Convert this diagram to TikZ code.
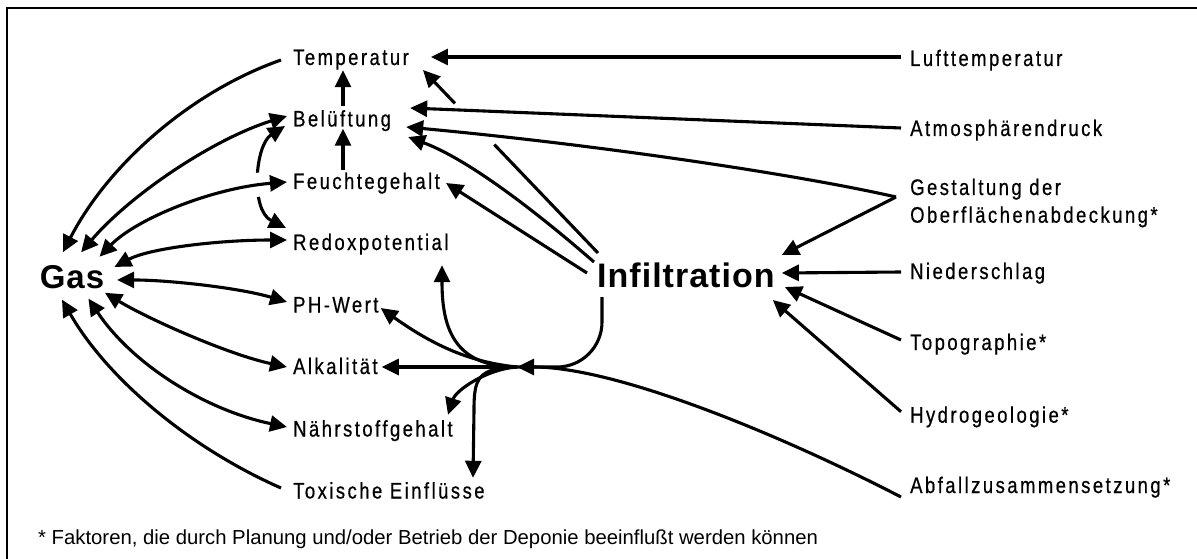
\documentclass[tikz,border=0pt]{standalone}
\usepackage{fontspec}
\setmainfont{Liberation Sans}
\newfontfamily\labfam[FakeStretch=0.82,LetterSpace=11,FakeBold=0.6]{Liberation Sans}
\newfontfamily\boldfam[LetterSpace=3]{Liberation Sans}
\usetikzlibrary{arrows.meta,shapes.geometric}
\newcommand\labfont{\labfam\fontsize{22.5}{27.7}\selectfont}
\begin{document}
\begin{tikzpicture}[x=1pt,y=-1pt,
  >={Triangle[length=17pt,width=16pt]},
  conn/.style={line width=3.1pt},
  labbase/.style={font=\labfont, inner sep=0pt, anchor=base west},
  lab/.style={labbase, text height=16pt, text depth=0pt},
  halo/.style={preaction={draw=white,line width=24pt,-,shorten <=100pt,shorten >=15pt}}]
\useasboundingbox (0,0) rectangle (1197,559);
\draw[line width=1.4pt] (1197,8) -- (7,8) -- (7,559);

% left column
\node[lab] (temp) at (293,65) {Temperatur};
\node[lab] (bel) at (293,126.5) {Belüftung};
\node[lab] (feu) at (293,189) {Feuchtegehalt};
\node[lab] (red) at (293,250) {Redoxpotential};
\node[lab] (ph) at (293,312.5) {PH-Wert};
\node[lab] (alk) at (293,374) {Alkalität};
\node[lab] (nah) at (293,436.5) {Nährstoffgehalt};
\node[lab] (tox) at (293,498.5) {Toxische Einflüsse};
% big nodes
\node[ellipse, minimum width=80pt, minimum height=48pt, inner sep=0pt,
  text height=24pt, text depth=0pt, font=\boldfam\bfseries\fontsize{33}{36}\selectfont] (gas) at (72,276) {Gas};
\node[anchor=base west, inner sep=0pt, text height=25pt, text depth=0pt,
  font=\boldfam\bfseries\fontsize{34}{38}\selectfont] (inf) at (597,287) {Infiltration};
% right column
\node[lab] (luft) at (910,66) {Lufttemperatur};
\node[lab] (atm) at (910,136) {Atmosphärendruck};
\node[labbase, align=left] (gest) at (910,222.7) {Gestaltung der\\Oberflächenabdeckung*};
\node[lab] (nied) at (910,279) {Niederschlag};
\node[lab] (topo) at (910,350) {Topographie*};
\node[lab] (hydro) at (910,422.7) {Hydrogeologie*};
\node[lab] (abf) at (910,493) {Abfallzusammensetzung*};
% footnote
\node[anchor=base west, inner sep=0pt, font=\fontsize{20.3}{24}\selectfont] (foot) at (38,544)
  {* Faktoren, die durch Planung und/oder Betrieb der Deponie beeinflußt werden können};

% Belüftung <-> Redoxpotential (drawn before the haloed arrow)
\draw[conn,<->] ([shift={(-8,7.5)}]bel.west) .. controls (255,145) and (250,210) .. ([shift={(-7,-14)}]red.west);
% Gas connections
\draw[conn,<->,halo] (gas.35) .. controls (136,219) and (212,188) .. ([shift={(-6,1)}]feu.west);
\draw[conn,->] ([shift={(-12,3)}]temp.west) .. controls (190,92) and (108,165) .. (gas.111);
\draw[conn,<->] (gas.69) .. controls (130,195) and (213,139) .. ([shift={(-6,-2.5)}]bel.west);
\draw[conn,<->] (gas.12) .. controls (150,248) and (220,240) .. ([shift={(-6,-2)}]red.west);
\draw[conn,<->] (gas.-5) .. controls (170,280) and (240,288) .. ([shift={(-6,-2.5)}]ph.west);
\draw[conn,<->] (gas.-27) .. controls (150,320) and (230,355) .. ([shift={(-6,1)}]alk.west);
\draw[conn,<->] (gas.-54) .. controls (132,364) and (205,410) .. ([shift={(-6,-1.5)}]nah.west);
\draw[conn,->] ([shift={(-12,-2.5)}]tox.west) .. controls (188,447) and (107,378) .. (gas.-113);
% verticals
\draw[conn,->] ([shift={(50,-3)}]feu.north west) -- ([shift={(50,2)}]bel.south west);
\draw[conn,->] ([shift={(50,-4)}]bel.north west) -- ([shift={(50,5)}]temp.south west);
% right side
\draw[conn,->] ([shift={(-9,-1)}]luft.west) -- ([shift={(22,0)}]temp.east);
\draw[conn,->] ([shift={(-9,0)}]atm.west) -- ([shift={(19,-10.5)}]bel.east);
\draw[conn,->] ([shift={(-14,-25.7)}]gest.base west) .. controls (800,175) and (600,145) .. ([shift={(15,8.5)}]bel.east);
\draw[conn,->] ([shift={(-14,-25.7)}]gest.base west) -- ([shift={(7,-19.5)}]inf.east);
\draw[conn,->] ([shift={(-9,1)}]nied.west) -- ([shift={(7,-1.5)}]inf.east);
\draw[conn,->] ([shift={(-9,-2)}]topo.west) -- ([shift={(10,12.5)}]inf.east);
\draw[conn,->] ([shift={(-9,-3)}]hydro.west) -- ([shift={(-2,25.5)}]inf.east);
% Infiltration to the left
\draw[conn,->,dash pattern=on 150pt off 57pt on 400pt] ([shift={(1,-21.5)}]inf.west) -- ([shift={(14,13)}]temp.east);
\draw[conn,->] ([shift={(-3,-12.5)}]inf.west) .. controls (540,215) and (470,160) .. ([shift={(17,18.5)}]bel.east);
\draw[conn,->] ([shift={(-10,-1.5)}]inf.west) -- ([shift={(6,2)}]feu.east);
% hub
\coordinate (hub) at (517,367);
\draw[conn,rounded corners=45pt] ([shift={(5,10)}]inf.south west) |- (hub);
\draw[conn,->] ([shift={(-9,12)}]abf.west) .. controls +(-120,-62) and +(100,0) .. (hub);
\draw[conn,->] (hub) -- ([shift={(4,1)}]alk.east);
\draw[conn,->] (hub) .. controls (467,362) and (430,343) .. ([shift={(2,3.5)}]ph.east);
\draw[conn,->] (hub) .. controls (452,367) and (442,325) .. ([shift={(149,15)}]red.south west);
\draw[conn,->] (hub) .. controls (487,369) and (456,390) .. ([shift={(155,-5.5)}]nah.north west);
\draw[conn,->] (hub) .. controls (478,368) and (474,378) .. (474,410) -- ([shift={(180,-4.5)}]tox.north west);
\end{tikzpicture}
\end{document}
